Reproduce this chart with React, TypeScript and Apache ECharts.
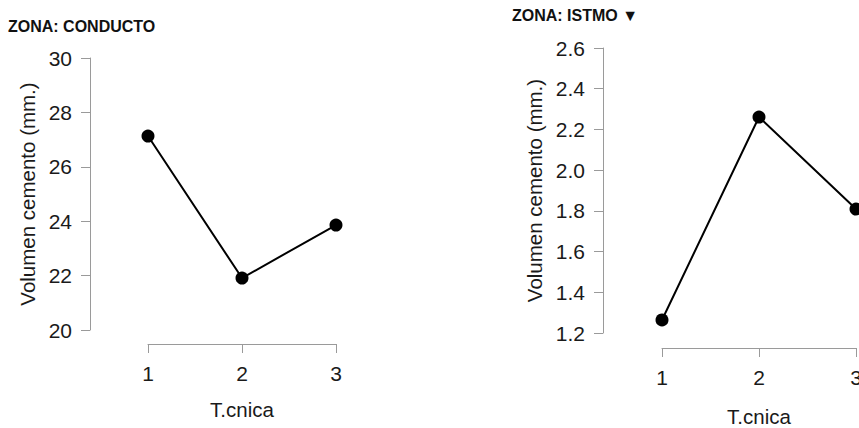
import React, { useEffect, useRef } from "react";
import * as echarts from "echarts";

const tecnica = [1, 2, 3];
const conducto = [27.13, 21.91, 23.86];
const istmo = [1.264, 2.261, 1.809];
const panelTitles = ["ZONA: CONDUCTO", "ZONA: ISTMO ▼"];
const xName = "T.cnica";
const yName = "Volumen cemento (mm.)";

const FONT = "'Liberation Sans', Arial, sans-serif";
const TXT = "#1a1a1a";
const AX = "#9a9a9a";

export default function App() {
  const ref = useRef<HTMLDivElement>(null);
  useEffect(() => {
    if (!ref.current) return;
    const chart = echarts.init(ref.current, undefined, { renderer: "svg" });
    const axisCommon = {
      axisLine: { show: true, lineStyle: { color: AX, width: 1 } },
      axisTick: { show: true, length: 9, lineStyle: { color: AX, width: 1 } },
      splitLine: { show: false },
      nameLocation: "middle" as const,
      nameTextStyle: { fontSize: 20.5, color: TXT, fontFamily: FONT },
    };
    const xAxis = (gridIndex: number, offset: number, nameGap: number) => ({
      ...axisCommon,
      type: "value" as const,
      gridIndex,
      min: 1,
      max: 3,
      interval: 1,
      offset,
      name: xName,
      nameGap,
      axisLabel: { fontSize: 21, color: TXT, fontFamily: FONT, margin: 19 },
    });
    const yAxis = (gridIndex: number, min: number, max: number, interval: number, offset: number, nameGap: number, dec: number) => ({
      ...axisCommon,
      type: "value" as const,
      gridIndex,
      min,
      max,
      interval,
      offset,
      name: yName,
      nameGap,
      axisLabel: {
        fontSize: 21,
        color: TXT,
        fontFamily: FONT,
        margin: 18,
        formatter: (v: number) => v.toFixed(dec),
      },
    });
    const seriesStyle = {
      type: "line" as const,
      symbol: "circle",
      symbolSize: 13,
      clip: false,
      itemStyle: { color: "#000" },
      lineStyle: { color: "#000", width: 2 },
    };
    const titleStyle = { fontSize: 16, fontWeight: "bold" as const, color: "#111", fontFamily: FONT };
    chart.setOption({
      animation: false,
      backgroundColor: "#fff",
      title: [
        { text: panelTitles[0], left: 8, top: 18, padding: 0, textStyle: titleStyle },
        { text: panelTitles[1], left: 512, top: 7, padding: 0, textStyle: titleStyle },
      ],
      grid: [
        { left: 148, top: 58, width: 188, height: 272, containLabel: false, outerBoundsMode: "none" },
        { left: 662, top: 48, width: 194, height: 285, containLabel: false, outerBoundsMode: "none" },
      ],
      xAxis: [xAxis(0, 14, 55), xAxis(1, 15, 58)],
      yAxis: [yAxis(0, 20, 30, 2, 58, 52, 0), yAxis(1, 1.2, 2.6, 0.2, 59, 58, 1)],
      series: [
        { ...seriesStyle, xAxisIndex: 0, yAxisIndex: 0, data: tecnica.map((t, i) => [t, conducto[i]]) },
        { ...seriesStyle, xAxisIndex: 1, yAxisIndex: 1, data: tecnica.map((t, i) => [t, istmo[i]]) },
      ],
    });
    return () => chart.dispose();
  }, []);
  return (
    <div
      ref={ref}
      style={{ position: "absolute", left: 0, top: 0, width: 859, height: 428 }}
    />
  );
}
